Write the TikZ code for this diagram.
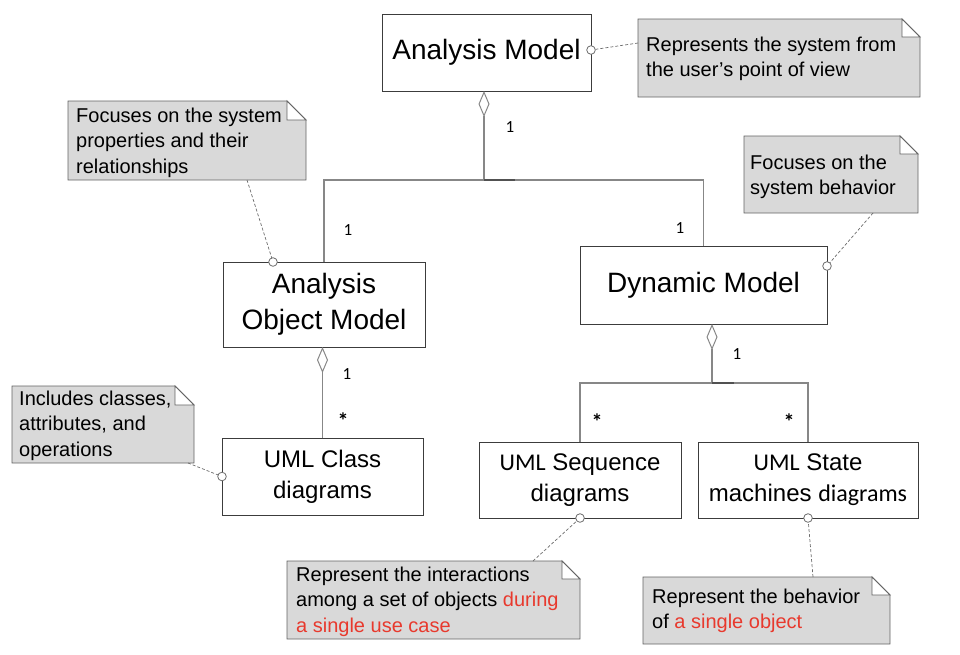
\documentclass[tikz,border=0pt]{standalone}
\usepackage{fontspec}
\setmainfont{Liberation Sans}
\newfontfamily\calfont{Carlito}
\usetikzlibrary{arrows.meta,fit}

\definecolor{boxline}{RGB}{60,60,60}
\definecolor{connline}{RGB}{135,135,135}
\definecolor{notefill}{RGB}{217,217,217}
\definecolor{noteline}{RGB}{100,100,100}
\definecolor{redtext}{RGB}{232,57,45}

\tikzset{
  box/.style={draw=boxline, line width=0.9pt, inner sep=0pt, outer sep=0pt, align=center,
    font=\fontsize{28}{36}\selectfont},
  smallbox/.style={box, font=\fontsize{24}{31}\selectfont},
  conn/.style={draw=connline, line width=1.2pt},
  agg/.style={conn, -{Diamond[open, length=26pt, width=11pt, line width=1pt]}},
  notelink/.style={draw=connline!80!black, line width=0.7pt, dash pattern=on 3pt off 2pt},
  pin/.style={draw=connline!80!black, fill=white, line width=0.8pt},
  notebg/.style={fill=notefill, draw=noteline, line width=0.9pt},
  notetxt/.style={anchor=north west, inner sep=0pt, align=left,
    font=\fontsize{20}{25.5}\selectfont},
  mult/.style={font=\calfont\fontsize{17}{17}\selectfont, inner sep=0pt},
  star/.style={font=\calfont\bfseries\fontsize{22}{22}\selectfont, inner sep=0pt},
}

\newcommand\umlnote[6]{%
  \node[fit={(#2,#3) (#4,#5)}, inner sep=0pt, outer sep=0pt] (#1) {};
  \path[notebg] (#1.south west) -- (#1.north west) -- ([xshift=-#6pt]#1.north east)
     -- ([yshift=-#6pt]#1.north east) -- (#1.south east) -- cycle;
  \path[notebg, fill=white] ([xshift=-#6pt]#1.north east)
     -- ([xshift=-#6pt,yshift=-#6pt]#1.north east) -- ([yshift=-#6pt]#1.north east) -- cycle;
}

\begin{document}
\begin{tikzpicture}[x=1pt,y=-1pt]
\useasboundingbox (0,0) rectangle (960,654);

% ---------- class boxes ----------
\node[box, minimum width=209pt, minimum height=77pt] (am) at (486.5,52.5) {Analysis Model};
\node[box, minimum width=202pt, minimum height=85pt] (aom) at (324,304.5) {Analysis\\Object Model};
\node[box, minimum width=247pt, minimum height=78pt] (dm) at (703.5,285) {Dynamic Model};
\node[smallbox, minimum width=201pt, minimum height=77pt] (cls) at (322.5,476.5) {UML Class\\diagrams};
\node[smallbox, minimum width=202pt, minimum height=76pt] (seq) at (580,480)
  {{\calfont UML} Sequence\\diagrams};
\node[smallbox, minimum width=220pt, minimum height=76pt] (state) at (808,480)
  {{\calfont UML} State\\machines {\calfont diagrams}};

% ---------- aggregation connectors ----------
\coordinate (j1) at (484,180);
\coordinate (j2) at (712,383);
\draw[agg] (j1) -- (am.south -| j1);
\draw[conn] (aom.north) |- (j1) -| (dm.north);
\draw[conn, draw=connline!60!black] (j1) -- ++(31,0);
\draw[agg] (cls.north) -- (aom.south -| cls.north);
\draw[agg] (j2) -- (dm.south -| j2);
\draw[conn] (seq.north) |- (j2) -| (state.north);
\draw[conn, draw=connline!60!black] (j2) -- ++(22,0);

% ---------- multiplicities ----------
\node[mult] (m1) at (510,127) {1};
\node[mult] (m2) at (348,230) {1};
\node[mult] (m3) at (680,228) {1};
\node[mult] (m4) at (347,374) {1};
\node[mult] (m5) at (737,354) {1};
\node[star] (s1) at (343,421) {*};
\node[star] (s2) at (597,422) {*};
\node[star] (s3) at (789,422) {*};

% ---------- notes ----------
\umlnote{n1}{638}{19}{920}{97}{18}
\node[notetxt] (t1) at (646,36.5) {Represents the system from\\the user’s point of view};

\umlnote{n2}{68}{101}{306}{180}{19}
\node[notetxt] (t2) at (76,107.5) {Focuses on the system\\properties and their\\relationships};

\umlnote{n3}{744}{136}{918}{213}{18}
\node[notetxt] (t3) at (750,154.5) {Focuses on the\\system behavior};

\umlnote{n4}{287}{561}{580}{639}{18}
\node[notetxt] (t4) at (296,566.5) {Represent the interactions\\among a set of objects \textcolor{redtext}{during}\\\textcolor{redtext}{a single use case}};

\umlnote{n5}{643}{577}{890}{644}{18}
\node[notetxt] (t5) at (652,588.5) {Represent the behavior\\of \textcolor{redtext}{a single object}};

\umlnote{n6}{12}{386}{194}{463}{19}
\node[notetxt] (t6) at (19,390.5) {Includes classes,\\attributes, and\\operations};

% ---------- note links ----------
\coordinate (c1) at ([yshift=2.5pt]am.east);
\coordinate (c2) at ([xshift=-51pt]aom.north);
\coordinate (c3) at ([yshift=19pt]dm.east);
\coordinate (c4) at (seq.south);
\coordinate (c5) at (state.south);
\coordinate (c6) at (cls.west);

\draw[notelink] ([yshift=15pt]n1.west) -- (c1);
\draw[notelink] ([xshift=60pt]n2.south) -- (c2);
\draw[notelink] ([xshift=42pt]n3.south) -- (c3);
\draw[notelink] ([xshift=99.5pt]n4.north) -- (c4);
\draw[notelink] ([xshift=46.5pt]n5.north) -- (c5);
\draw[notelink] ([xshift=85pt]n6.south) -- (c6);

\foreach \c in {c1,c2,c3,c4,c5,c6} \draw[pin] (\c) circle (4.3pt);
\end{tikzpicture}
\end{document}
